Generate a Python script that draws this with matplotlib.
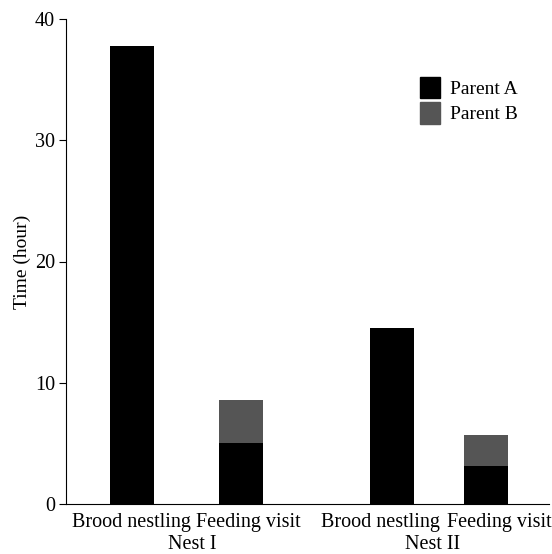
import matplotlib.pyplot as plt
from matplotlib.patches import Patch

plt.rcParams['font.family'] = ['Liberation Serif', 'DejaVu Serif']

categories = ["Brood nestling", "Feeding visit", "Brood nestling", "Feeding visit"]
groups = ["Nest I", "Nest II"]
parent_a = [37.8, 5.0, 14.5, 3.1]
parent_b = [0.0, 3.6, 0.0, 2.6]

xpos = [0.66, 1.75, 3.26, 4.20]
label_x = [0.65, 1.82, 3.145, 4.33]
group_x = [1.26, 3.67]

fig = plt.figure(figsize=(5.52, 5.54), dpi=100)
ax = fig.add_axes([66 / 552, 50 / 554, 483 / 552, 485 / 554])

ax.bar(xpos, parent_a, width=0.44, color="black")
ax.bar(xpos, parent_b, width=0.44, bottom=parent_a, color="#555555")

ax.set_xlim(0, 4.83)
ax.set_ylim(0, 40)
ax.set_yticks([0, 10, 20, 30, 40])
ax.set_xticks([])
ax.tick_params(axis="y", length=5, labelsize=14.5, pad=3)
for s in ["top", "right"]:
    ax.spines[s].set_visible(False)

tr = ax.get_xaxis_transform()
for lx, c in zip(label_x, categories):
    ax.text(lx, -0.0474, c, transform=tr, ha="center", va="baseline",
            fontsize=14.5)
for gx, g in zip(group_x, groups):
    ax.text(gx, -0.093, g, transform=tr, ha="center", va="baseline",
            fontsize=14.5)

ax.set_ylabel("Time (hour)", fontsize=14, labelpad=3)

handles = [Patch(color="black", label="Parent A"),
           Patch(color="#555555", label="Parent B")]
ax.legend(handles=handles, loc="upper right", bbox_to_anchor=(0.972, 0.916),
          frameon=False, fontsize=14, handlelength=1.05, handleheight=1.3,
          handletextpad=0.5, labelspacing=0.2)

fig.savefig("out.png", dpi=100)
